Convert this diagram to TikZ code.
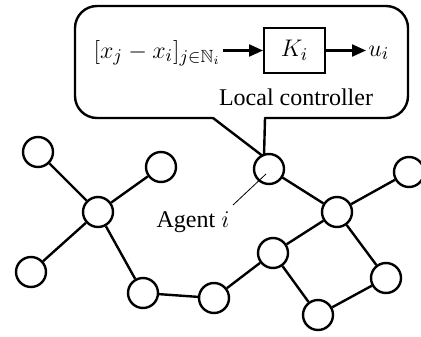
\documentclass[tikz,border=0pt]{standalone}
\usepackage{amssymb}
\usepackage{fontspec}
\setmainfont{Liberation Serif}
\usetikzlibrary{arrows.meta}
\tikzset{
  agent/.style={circle, draw, line width=1.2pt, fill=white, minimum size=15pt, inner sep=0pt},
  link/.style={line width=1.2pt},
  blockbox/.style={draw, line width=1pt, minimum width=30.5pt, minimum height=22.5pt, inner sep=0pt},
  sig/.style={line width=1.1pt, -{Triangle[length=7pt,width=6pt]}},
  bubble/.style={line width=1.2pt, line cap=round, line join=round},
  mathtext/.style={font=\fontsize{12.6}{15}\selectfont},
}
\begin{document}
\begin{tikzpicture}[x=0.5pt, y=-0.5pt, font=\fontsize{12}{14}\selectfont]
\useasboundingbox (0,0) rectangle (421,336);

% speech bubble around the local controller
\draw[bubble, rounded corners=11pt] (265,118) -- (408,118) -- (408,6) -- (75,6) -- (75,118) -- (213,118);
\draw[bubble] (213,118) -- (264,157) -- (265,118);

% controller block diagram
\node[blockbox, mathtext] (K) at (294.5,50.5) {$K_i$};
\node[anchor=east, inner sep=1pt, mathtext] (in) at (223,53) {$[x_j - x_i]_{j\in\mathbb{N}_i}$};
\node[anchor=west, inner sep=1pt, mathtext] (u) at (366,53) {$u_i$};
\draw[sig] (in.east |- K.west) -- (K.west);
\draw[sig] (K.east) -- (u.west |- K.east);
\node (lc) at (296,97) {Local controller};

% agents
\node[agent] (a1) at (38,152) {};
\node[agent] (a2) at (161,167) {};
\node[agent] (ai) at (269,169) {};
\node[agent] (a4) at (409,172) {};
\node[agent] (hub) at (98,212) {};
\node[agent] (a6) at (31,272) {};
\node[agent] (a7) at (143,293) {};
\node[agent] (a8) at (214,298) {};
\node[agent] (a9) at (273,253) {};
\node[agent] (a10) at (337,212) {};
\node[agent] (a11) at (386,278) {};
\node[agent] (a12) at (318,315) {};

% communication links
\draw[link] (a1) -- (hub);
\draw[link] (a2) -- (hub);
\draw[link] (a6) -- (hub);
\draw[link] (hub) -- (a7);
\draw[link] (a7) -- (a8);
\draw[link] (a8) -- (a9);
\draw[link] (a9) -- (a10);
\draw[link] (a9) -- (a12);
\draw[link] (a12) -- (a11);
\draw[link] (a11) -- (a10);
\draw[link] (a10) -- (a4);
\draw[link] (ai) -- (a10);

% label for the highlighted agent
\node (lab) at (193,222) {Agent $i$};
\coordinate (labtip) at (233,205);
\draw[line width=0.4pt] (ai.center) ++(-3,5) -- (labtip);
\end{tikzpicture}
\end{document}
